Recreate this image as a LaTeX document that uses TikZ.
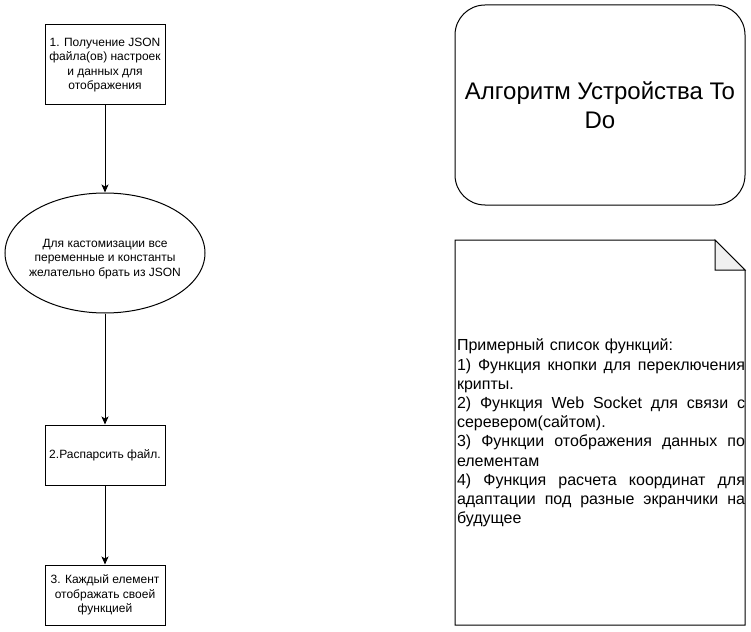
\documentclass[tikz,border=0pt]{standalone}
\usepackage{fontspec}
\setmainfont{Liberation Sans}
\usetikzlibrary{shapes.geometric,arrows.meta}
\newcommand\jline[1]{\leavevmode\hbox to 288pt{\spaceskip=0pt\xspaceskip=0pt #1}}
\begin{document}
\begin{tikzpicture}[x=1pt,y=-1pt,line width=1pt,
  box/.style={draw,rectangle,minimum width=120pt,inner sep=0pt,align=center,
    font=\fontsize{12}{14.4}\selectfont},
  oval/.style={draw,ellipse,minimum width=200pt,minimum height=120pt,inner sep=0pt},
  lbl/.style={inner sep=0pt,align=center,font=\fontsize{12}{14.4}\selectfont},
  arr/.style={-{Stealth[length=8pt,width=7pt,inset=2pt]}}]
\useasboundingbox (0,0) rectangle (751,631);

\node[box,minimum height=80pt] (b1) at (105,65) {1. Получение JSON\\файла(ов) настроек\\и данных для\\отображения};
\node[oval] (e) at (105,253) {};
\node[lbl] (etext) at (105,259) {Для кастомизации все\\переменные и константы\\желательно брать из JSON};
\node[box,minimum height=60pt] (b2) at (105,455) {2.Распарсить файл.};
\node[box,minimum height=60pt] (b3) at (105,595) {3. Каждый елемент\\отображать своей\\функцией};

\draw[arr] (b1) -- (e);
\draw[arr] (e) -- (b2);
\draw[arr] (b2) -- (b3);

\node[draw,rounded corners=30pt,minimum width=290pt,minimum height=200pt,inner sep=0pt,align=center,
  font=\fontsize{24}{28.8}\selectfont] (title) at (600,105) {Алгоритм Устройства To\\Do};

% note shape
\draw (455,240) -- (715,240) -- (745,270) -- (745,625) -- (455,625) -- cycle;
\draw[fill=black!6] (715,240) -- (715,270) -- (745,270) -- cycle;
\node[inner sep=0pt,text width=288pt,align=left,font=\fontsize{16}{19.2}\selectfont] (notetext) at (601,433)
{Примерный список функций:\\
\jline{1) Функция кнопки для переключения}\\
крипты.\\
\jline{2) Функция Web Socket для связи с}\\
серевером(сайтом).\\
\jline{3) Функции отображения данных по}\\
елементам\\
\jline{4) Функция расчета координат для}\\
\jline{адаптации под разные экранчики на}\\
будущее};
\end{tikzpicture}
\end{document}
